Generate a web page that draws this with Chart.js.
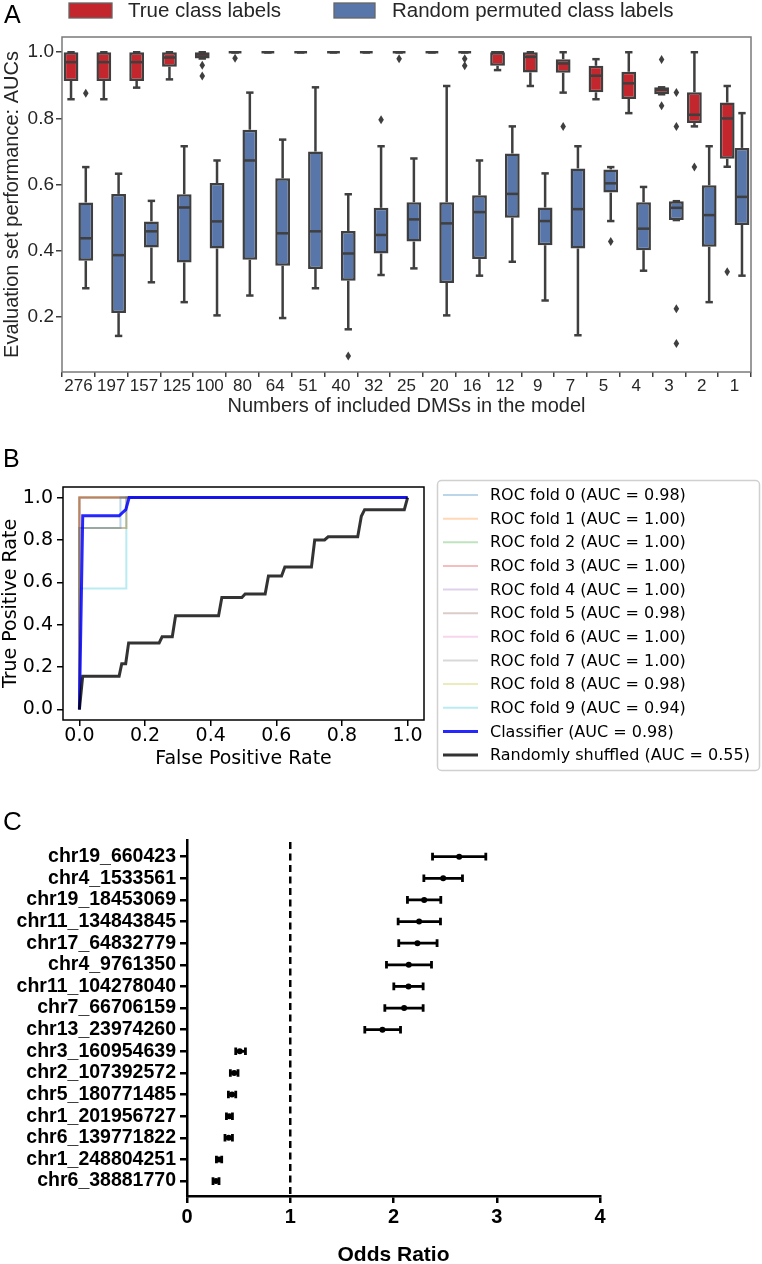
<!DOCTYPE html>
<html><head><meta charset="utf-8">
<script src="https://cdn.jsdelivr.net/npm/chart.js@4.4.0/dist/chart.umd.min.js"></script>
<style>
html,body{margin:0;padding:0;background:#fff;overflow:hidden;}
#wrap{position:relative;width:762px;height:1264px;overflow:hidden;}
canvas{position:absolute;left:0;}
</style></head><body>
<div id="wrap">
<canvas id="cA" width="762" height="420" style="top:0;width:762px;height:420px"></canvas>
<canvas id="cB" width="762" height="340" style="top:440px;width:762px;height:340px"></canvas>
<canvas id="cC" width="762" height="464" style="top:800px;width:762px;height:464px"></canvas>
</div>
<script>
// ---------- Panel A data ----------
const dmsCounts = ['276','197','157','125','100','80','64','51','40','32','25','20','16','12','9','7','5','4','3','2','1'];
const trueLow  = [0.858,0.858,0.893,0.918,0.981,1,1,1,1,1,1,1,1,0.946,0.898,0.878,0.858,0.816,0.873,0.776,0.654];
const trueQ1   = [0.913,0.913,0.913,0.956,0.981,1,1,1,1,1,1,1,1,0.959,0.939,0.938,0.879,0.859,0.873,0.786,0.678];
const trueMed  = [0.970,0.970,0.970,0.984,0.993,1,1,1,1,1,1,1,1,1.000,0.986,0.966,0.929,0.906,0.886,0.811,0.800];
const trueQ3   = [1,1,1,1,1,1,1,1,1,1,1,1,1,1,1,0.979,0.959,0.941,0.894,0.879,0.848];
const trueHigh = [1,1,1,1,1,1,1,1,1,1,1,1,1,1,1,1,0.979,1,0.894,1,0.898];
const trueOut  = [[],[],[],[],[0.961,0.928],[0.982],[],[],[],[],[0.98],[],[0.98,0.959],[],[],[0.776],[],[],[0.978,0.838],[0.653],[0.337]];
const permLow  = [0.287,0.143,0.305,0.245,0.205,0.265,0.197,0.287,0.163,0.327,0.347,0.205,0.325,0.367,0.250,0.145,0.490,0.340,0.493,0.245,0.325];
const permQ1   = [0.370,0.212,0.410,0.365,0.407,0.373,0.355,0.345,0.310,0.392,0.428,0.303,0.375,0.500,0.417,0.407,0.576,0.402,0.493,0.412,0.478];
const permMed  = [0.438,0.387,0.459,0.531,0.489,0.673,0.453,0.459,0.392,0.448,0.495,0.483,0.517,0.572,0.490,0.526,0.604,0.467,0.530,0.508,0.563];
const permQ3   = [0.546,0.572,0.489,0.571,0.605,0.766,0.619,0.700,0.460,0.530,0.547,0.547,0.568,0.694,0.531,0.649,0.646,0.547,0.550,0.598,0.711];
const permHigh = [0.653,0.633,0.551,0.716,0.673,0.878,0.736,0.894,0.571,0.716,0.679,0.898,0.673,0.776,0.634,0.716,0.653,0.593,0.550,0.716,0.816];
const permOut  = [[0.876],[],[],[],[],[],[],[],[0.082],[0.796],[],[],[],[],[],[],[0.428],[],[0.878,0.776,0.225,0.12],[],[]];
const yTicksA = [0.2,0.4,0.6,0.8,1.0];
const seriesNamesA = ['True class labels','Random permuted class labels'];
const seriesColorsA = ['#C4262D','#5876AA'];

// ---------- Panel B data ----------
const foldLabels = ['ROC fold 0 (AUC = 0.98)','ROC fold 1 (AUC = 1.00)','ROC fold 2 (AUC = 1.00)','ROC fold 3 (AUC = 1.00)','ROC fold 4 (AUC = 1.00)','ROC fold 5 (AUC = 0.98)','ROC fold 6 (AUC = 1.00)','ROC fold 7 (AUC = 1.00)','ROC fold 8 (AUC = 0.98)','ROC fold 9 (AUC = 0.94)'];
const foldColors = ['31,119,180','255,127,14','44,160,44','214,39,40','148,103,189','140,86,75','227,119,194','127,127,127','188,189,34','23,190,207'];
const foldFpr = [
  [0,0,0.125,0.125,1],[0,0,1],[0,0,1],[0,0,1],[0,0,1],
  [0,0,0.143,0.143,1],[0,0,1],[0,0,1],[0,0,0.143,0.143,1],[0,0,0.143,0.143,1]];
const foldTpr = [
  [0,0.857,0.857,1,1],[0,1,1],[0,1,1],[0,1,1],[0,1,1],
  [0,0.857,0.857,1,1],[0,1,1],[0,1,1],[0,0.857,0.857,1,1],[0,0.571,0.571,1,1]];
const classifierLabel = 'Classifier (AUC = 0.98)';
const classifierFpr = [0,0.0101,0.1212,0.1313,0.1414,0.1515,1];
const classifierTpr = [0,0.914,0.914,0.929,0.943,1.0,1.0];
const shuffledLabel = 'Randomly shuffled (AUC = 0.55)';
const shuffledFpr = [0,0.010,0.121,0.129,0.141,0.150,0.243,0.252,0.283,0.293,0.424,0.434,0.495,0.505,0.566,0.576,0.616,0.626,0.707,0.717,0.747,0.758,0.848,0.859,0.869,0.990,1.0];
const shuffledTpr = [0,0.157,0.157,0.216,0.216,0.314,0.314,0.343,0.343,0.442,0.442,0.528,0.528,0.545,0.545,0.630,0.630,0.672,0.672,0.800,0.800,0.815,0.815,0.912,0.943,0.943,1.0];
const rocTicks = [0,0.2,0.4,0.6,0.8,1.0];

// ---------- Panel C data ----------
const dmsNames = ['chr19_660423','chr4_1533561','chr19_18453069','chr11_134843845','chr17_64832779','chr4_9761350','chr11_104278040','chr7_66706159','chr13_23974260','chr3_160954639','chr2_107392572','chr5_180771485','chr1_201956727','chr6_139771822','chr1_248804251','chr6_38881770'];
const oddsRatio = [2.636,2.481,2.297,2.248,2.232,2.148,2.145,2.103,1.893,0.511,0.457,0.436,0.411,0.404,0.310,0.281];
const ciLow     = [2.378,2.294,2.135,2.045,2.051,1.932,2.003,1.916,1.722,0.472,0.420,0.401,0.382,0.368,0.285,0.252];
const ciHigh    = [2.894,2.668,2.458,2.455,2.422,2.368,2.287,2.287,2.068,0.566,0.494,0.472,0.440,0.440,0.336,0.310];
const orTicks = [0,1,2,3,4];
const nullOR = 1;

const ARIAL = '"Liberation Sans", Arial, sans-serif';
const DEJAVU = '"DejaVu Sans", sans-serif';

// ================= Panel A =================
const boxStats = [
  {low:trueLow,q1:trueQ1,med:trueMed,q3:trueQ3,high:trueHigh,out:trueOut},
  {low:permLow,q1:permQ1,med:permMed,q3:permQ3,high:permHigh,out:permOut}];

const boxPlugin = {
  id:'boxPlugin',
  afterDatasetsDraw(chart){
    const ctx = chart.ctx, ys = chart.scales.y, ca = chart.chartArea;
    ctx.save();
    const ln = (x1,y1,x2,y2)=>{ctx.beginPath();ctx.moveTo(x1,y1);ctx.lineTo(x2,y2);ctx.stroke();};
    boxStats.forEach((s,di)=>{
      const meta = chart.getDatasetMeta(di);
      meta.data.forEach((el,i)=>{
        const x = el.x, w = el.width;
        ctx.strokeStyle = '#3f3f3f'; ctx.lineWidth = 2.5; ctx.lineCap='butt';
        ln(x, ys.getPixelForValue(s.q3[i]), x, ys.getPixelForValue(s.high[i]));
        ln(x, ys.getPixelForValue(s.q1[i]), x, ys.getPixelForValue(s.low[i]));
        ln(x-w/4, ys.getPixelForValue(s.high[i]), x+w/4, ys.getPixelForValue(s.high[i]));
        ln(x-w/4, ys.getPixelForValue(s.low[i]), x+w/4, ys.getPixelForValue(s.low[i]));
        ln(x-w/2+1, ys.getPixelForValue(s.med[i]), x+w/2-1, ys.getPixelForValue(s.med[i]));
        ctx.fillStyle = '#3f3f3f';
        s.out[i].forEach(v=>{
          const py = ys.getPixelForValue(v);
          ctx.beginPath(); ctx.moveTo(x,py-4.5); ctx.lineTo(x+2.8,py); ctx.lineTo(x,py+4.5); ctx.lineTo(x-2.8,py); ctx.closePath(); ctx.fill();
        });
      });
    });
    ctx.strokeStyle = '#7a7a7a'; ctx.lineWidth = 1.5;
    ctx.strokeRect(ca.left, ca.top, ca.right-ca.left, ca.bottom-ca.top);
    ctx.restore();
  },
  afterDraw(chart){
    const ctx = chart.ctx; ctx.save();
    ctx.fillStyle='#000'; ctx.font='25px '+ARIAL; ctx.textBaseline='alphabetic';
    ctx.fillText('A',4,23);
    const items = [{x:69,w:43,tx:128},{x:334,w:41,tx:392}];
    chart.data.datasets.forEach((ds,i)=>{
      const it = items[i];
      ctx.fillStyle = ds.backgroundColor; ctx.fillRect(it.x,3,it.w,15);
      ctx.strokeStyle='#666'; ctx.lineWidth=1.3; ctx.strokeRect(it.x,3,it.w,15);
      ctx.fillStyle='#262626'; ctx.font='20.5px '+ARIAL; ctx.textBaseline='middle';
      ctx.fillText(ds.label, it.tx, 11);
    });
    ctx.restore();
  }
};

new Chart(document.getElementById('cA'), {
  type:'bar',
  data:{
    labels: dmsCounts,
    datasets: boxStats.map((s,di)=>({
      label: seriesNamesA[di],
      data: s.q1.map((v,i)=>[v, s.q3[i]]),
      backgroundColor: seriesColorsA[di],
      borderColor:'#3f3f3f', borderWidth:2.5, borderSkipped:false,
      categoryPercentage:0.9, barPercentage:1.0
    }))
  },
  options:{
    responsive:false, animation:false, events:[],
    layout:{padding:{top:37,right:11,left:0,bottom:0}},
    plugins:{legend:{display:false}, tooltip:{enabled:false}},
    scales:{
      x:{
        grid:{display:true, drawOnChartArea:false, drawTicks:true, tickLength:5, color:'#3f3f3f', lineWidth:1.5},
        border:{display:false},
        ticks:{font:{family:ARIAL,size:17,lineHeight:1}, color:'#262626', padding:1, maxRotation:0, minRotation:0, autoSkip:false},
        title:{display:true, text:'Numbers of included DMSs in the model', font:{family:ARIAL,size:20,lineHeight:1}, color:'#262626', padding:{top:0,bottom:4}},
        afterFit:s=>{s.height=48;}
      },
      y:{
        min:0.034, max:1.046,
        afterBuildTicks:s=>{s.ticks = yTicksA.map(v=>({value:v}));},
        grid:{display:true, drawOnChartArea:false, drawTicks:true, tickLength:6, color:'#3f3f3f', lineWidth:1.5},
        border:{display:false},
        ticks:{font:{family:ARIAL,size:19}, color:'#262626', padding:2, callback:v=>Number(v).toFixed(1)},
        title:{display:true, text:'Evaluation set performance: AUCs', font:{family:ARIAL,size:20,lineHeight:1}, color:'#262626', padding:{top:2,bottom:0}},
        afterFit:s=>{s.width=62;}
      }
    }
  },
  plugins:[boxPlugin]
});

// ================= Panel B =================
const toPts = (xs,ys)=>xs.map((x,i)=>({x:x,y:ys[i]}));
const rocDatasets = foldLabels.map((lab,i)=>({
  label:lab, data:toPts(foldFpr[i],foldTpr[i]),
  borderColor:'rgba('+foldColors[i]+',0.3)', borderWidth:2, order:2+i
}));
rocDatasets.push({label:classifierLabel, data:toPts(classifierFpr,classifierTpr), borderColor:'rgba(0,0,255,0.85)', borderWidth:3, order:1});
rocDatasets.push({label:shuffledLabel, data:toPts(shuffledFpr,shuffledTpr), borderColor:'rgba(0,0,0,0.8)', borderWidth:3, order:0});
rocDatasets.forEach(d=>{d.showLine=true; d.pointRadius=0; d.fill=false; d.tension=0;});

const rocPlugin = {
  id:'rocPlugin',
  afterDatasetsDraw(chart){
    const ctx=chart.ctx, ca=chart.chartArea; ctx.save();
    ctx.strokeStyle='#000'; ctx.lineWidth=1.5;
    ctx.strokeRect(ca.left, ca.top, ca.right-ca.left, ca.bottom-ca.top);
    ctx.restore();
  },
  afterDraw(chart){
    const ctx=chart.ctx; ctx.save();
    ctx.fillStyle='#000'; ctx.font='25px '+ARIAL; ctx.textBaseline='alphabetic';
    ctx.fillText('B',3,27);
    const x0=437.5,y0=40.5,w=322,h=290,r=4;
    ctx.beginPath();
    ctx.moveTo(x0+r,y0); ctx.lineTo(x0+w-r,y0); ctx.arcTo(x0+w,y0,x0+w,y0+r,r);
    ctx.lineTo(x0+w,y0+h-r); ctx.arcTo(x0+w,y0+h,x0+w-r,y0+h,r);
    ctx.lineTo(x0+r,y0+h); ctx.arcTo(x0,y0+h,x0,y0+h-r,r);
    ctx.lineTo(x0,y0+r); ctx.arcTo(x0,y0,x0+r,y0,r); ctx.closePath();
    ctx.fillStyle='rgba(255,255,255,0.8)'; ctx.fill();
    ctx.strokeStyle='#d0d0d0'; ctx.lineWidth=1.5; ctx.stroke();
    chart.data.datasets.forEach((ds,i)=>{
      const y = 55 + i*23.64;
      ctx.strokeStyle=ds.borderColor; ctx.lineWidth=ds.borderWidth;
      ctx.beginPath(); ctx.moveTo(443,y); ctx.lineTo(478,y); ctx.stroke();
      ctx.fillStyle='#000'; ctx.font='16px '+DEJAVU; ctx.textBaseline='middle';
      ctx.fillText(ds.label, 490, y+1);
    });
    ctx.restore();
  }
};

new Chart(document.getElementById('cB'), {
  type:'scatter',
  data:{datasets:rocDatasets},
  options:{
    responsive:false, animation:false, events:[],
    layout:{padding:{top:47,right:338,left:0,bottom:0}},
    plugins:{legend:{display:false}, tooltip:{enabled:false}},
    scales:{
      x:{
        type:'linear', min:-0.05, max:1.05,
        afterBuildTicks:s=>{s.ticks = rocTicks.map(v=>({value:v}));},
        grid:{display:true, drawOnChartArea:false, drawTicks:true, tickLength:6, color:'#000', lineWidth:1.5},
        border:{display:false},
        ticks:{font:{family:DEJAVU,size:19,lineHeight:1}, color:'#000', padding:1, maxRotation:0, callback:v=>Number(v).toFixed(1)},
        title:{display:true, text:'False Positive Rate', font:{family:DEJAVU,size:19,lineHeight:1}, color:'#000', padding:{top:0,bottom:11}},
        afterFit:s=>{s.height=60;}
      },
      y:{
        type:'linear', min:-0.05, max:1.05,
        afterBuildTicks:s=>{s.ticks = rocTicks.map(v=>({value:v}));},
        grid:{display:true, drawOnChartArea:false, drawTicks:true, tickLength:6, color:'#000', lineWidth:1.5},
        border:{display:false},
        ticks:{font:{family:DEJAVU,size:19}, color:'#000', padding:4, callback:v=>Number(v).toFixed(1)},
        title:{display:true, text:'True Positive Rate', font:{family:DEJAVU,size:19,lineHeight:1}, color:'#000', padding:{top:2,bottom:0}},
        afterFit:s=>{s.width=63;}
      }
    }
  },
  plugins:[rocPlugin]
});

// ================= Panel C =================
const forestPlugin = {
  id:'forestPlugin',
  beforeDatasetsDraw(chart){
    const ctx=chart.ctx, xs=chart.scales.x, ys=chart.scales.y, ca=chart.chartArea;
    ctx.save();
    ctx.strokeStyle='#000'; ctx.lineWidth=2.5; ctx.setLineDash([7,4.5]);
    const px = xs.getPixelForValue(nullOR);
    ctx.beginPath(); ctx.moveTo(px, ca.top+2); ctx.lineTo(px, ca.bottom); ctx.stroke();
    ctx.setLineDash([]);
    ctx.lineWidth=2.8;
    oddsRatio.forEach((v,i)=>{
      const y = ys.getPixelForValue(i);
      const a = xs.getPixelForValue(ciLow[i]), b = xs.getPixelForValue(ciHigh[i]);
      ctx.beginPath(); ctx.moveTo(a,y); ctx.lineTo(b,y); ctx.stroke();
      ctx.beginPath(); ctx.moveTo(a,y-3.8); ctx.lineTo(a,y+3.8); ctx.moveTo(b,y-3.8); ctx.lineTo(b,y+3.8); ctx.stroke();
    });
    ctx.restore();
  },
  afterDraw(chart){
    const ctx=chart.ctx; ctx.save();
    ctx.fillStyle='#000'; ctx.font='26px '+ARIAL; ctx.textBaseline='alphabetic';
    ctx.fillText('C',3,30);
    ctx.restore();
  }
};

new Chart(document.getElementById('cC'), {
  type:'scatter',
  data:{datasets:[{
    label:'Odds ratio',
    data: oddsRatio.map((v,i)=>({x:v,y:i})),
    pointRadius:3, pointBackgroundColor:'#000', pointBorderColor:'#000', pointBorderWidth:0, showLine:false
  }]},
  options:{
    responsive:false, animation:false, events:[],
    layout:{padding:{top:40,right:162,left:0,bottom:0}},
    plugins:{legend:{display:false}, tooltip:{enabled:false}},
    scales:{
      x:{
        type:'linear', min:0, max:4,
        afterBuildTicks:s=>{s.ticks = orTicks.map(v=>({value:v}));},
        grid:{display:true, drawOnChartArea:false, drawTicks:true, tickLength:7, color:'#000', lineWidth:2.5},
        border:{display:true, color:'#000', width:2.5},
        ticks:{font:{family:ARIAL,size:20,weight:'bold',lineHeight:1}, color:'#000', padding:4, maxRotation:0},
        title:{display:true, text:'Odds Ratio', font:{family:ARIAL,size:21,weight:'bold',lineHeight:0.85}, color:'#000', padding:{top:0,bottom:0}},
        afterFit:s=>{s.height=68;}
      },
      y:{
        type:'linear', min:-0.77, max:15.69, reverse:true,
        afterBuildTicks:s=>{s.ticks = dmsNames.map((n,i)=>({value:i}));},
        grid:{display:true, drawOnChartArea:false, drawTicks:true, tickLength:7, color:'#000', lineWidth:2.5},
        border:{display:true, color:'#000', width:2.5},
        ticks:{font:{family:ARIAL,size:19.5,weight:'bold'}, color:'#000', padding:4, autoSkip:false, callback:v=>dmsNames[v]},
        afterFit:s=>{s.width=187;}
      }
    }
  },
  plugins:[forestPlugin]
});
</script>
</body></html>
